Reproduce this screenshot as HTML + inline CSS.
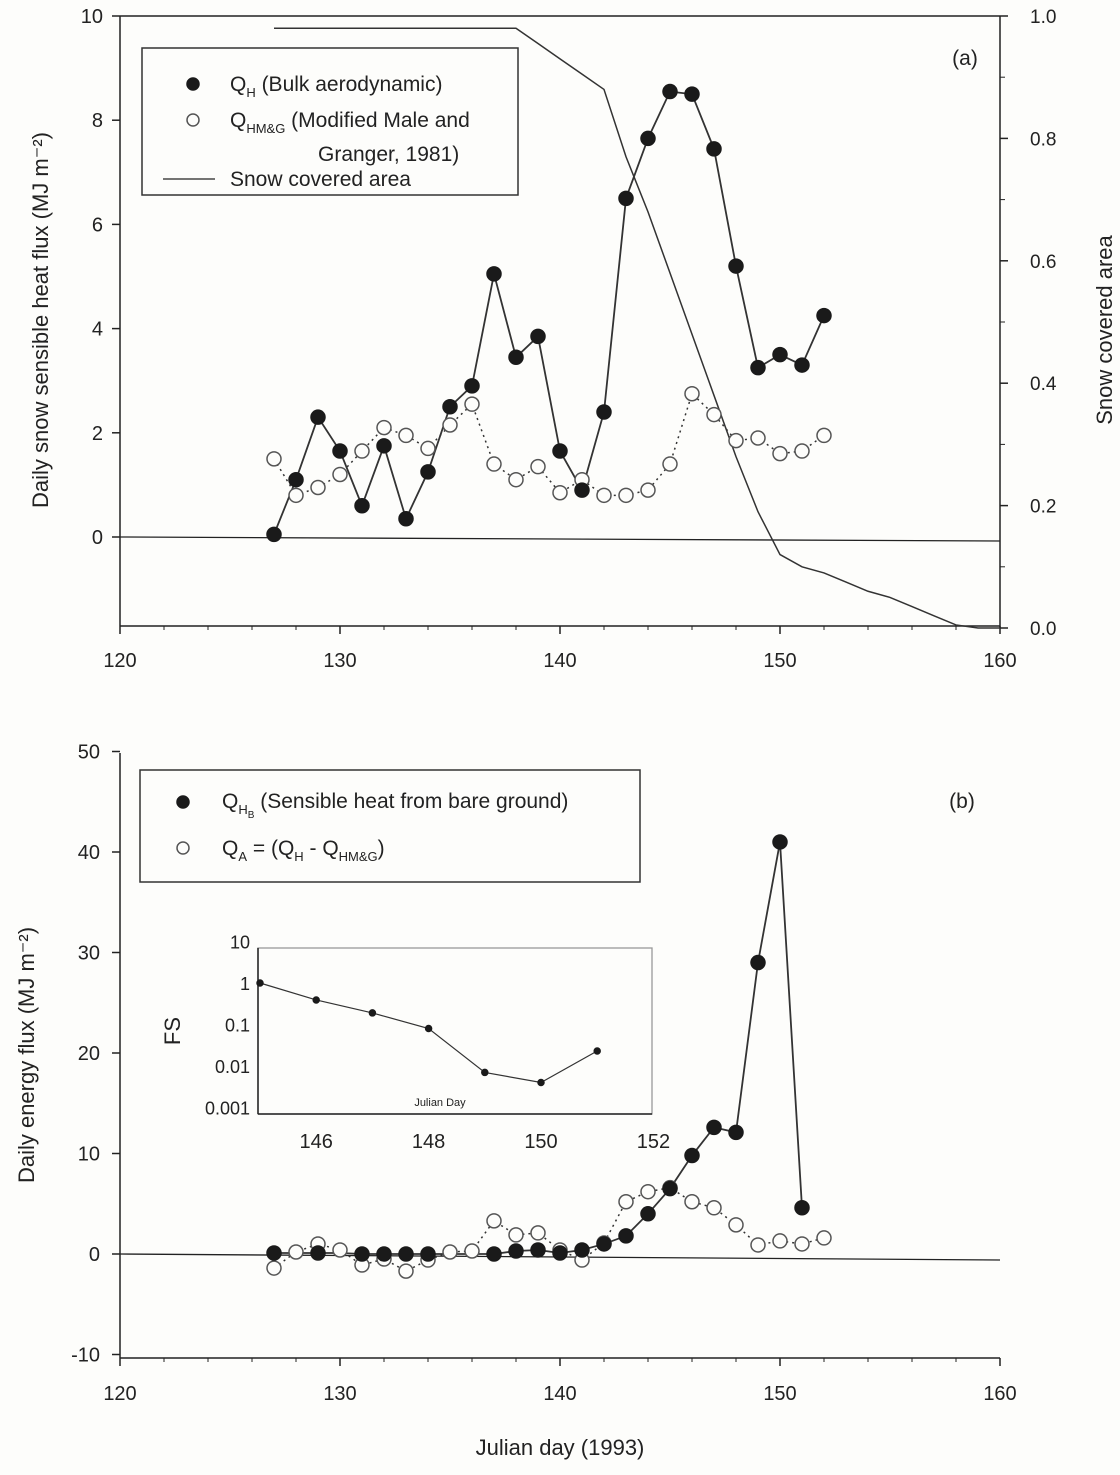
<!DOCTYPE html>
<html><head><meta charset="utf-8"><style>
body{margin:0;background:#fdfdfb;}
svg{display:block;font-family:"Liberation Sans",sans-serif;}
</style></head><body>
<svg id="c" width="1120" height="1475" viewBox="0 0 1120 1475"></svg>
<script>
const days=[127,128,129,130,131,132,133,134,135,136,137,138,139,140,141,142,143,144,145,146,147,148,149,150,151,152];
const qh=[0.05,1.1,2.3,1.65,0.6,1.75,0.35,1.25,2.5,2.9,5.05,3.45,3.85,1.65,0.9,2.4,6.5,7.65,8.55,8.5,7.45,5.2,3.25,3.5,3.3,4.25];
const qhmg=[1.5,0.8,0.95,1.2,1.65,2.1,1.95,1.7,2.15,2.55,1.4,1.1,1.35,0.85,1.1,0.8,0.8,0.9,1.4,2.75,2.35,1.85,1.9,1.6,1.65,1.95];
const scaDays=[127,138,139,140,141,142,143,144,145,146,147,148,149,150,151,152,153,154,155,156,157,158,159,160];
const sca=[0.98,0.98,0.955,0.93,0.905,0.88,0.77,0.68,0.58,0.48,0.38,0.28,0.19,0.12,0.10,0.09,0.075,0.06,0.05,0.035,0.02,0.005,0,0];
const bDays=[127,128,129,130,131,132,133,134,135,136,137,138,139,140,141,142,143,144,145,146,147,148,149,150,151];
const qhb=[0.1,0.1,0.1,0.1,0,0,0,0,0,0,0,0.3,0.4,0.1,0.4,1.0,1.8,4,6.5,9.8,12.6,12.1,29,41,4.6];
const qa=[-1.4,0.2,1.0,0.4,-1.1,-0.5,-1.7,-0.6,0.2,0.3,3.3,1.9,2.1,0.4,-0.6,1.1,5.2,6.2,6.6,5.2,4.6,2.9,0.9,1.3,1.0,1.6];
const fsDays=[145,146,147,148,149,150,151];
const fs=[1.0,0.39,0.19,0.08,0.007,0.004,0.023];
const xTicks=[120,130,140,150,160];
const aTicks=[0,2,4,6,8,10];
const rTicks=[0,0.2,0.4,0.6,0.8,1.0];
const bTicks=[-10,0,10,20,30,40,50];
const fsTicks=[0.001,0.01,0.1,1,10];
const fsXTicks=[146,148,150,152];

const S=document.getElementById('c');const NS='http://www.w3.org/2000/svg';
function E(t,a,p){const e=document.createElementNS(NS,t);for(const k in a)e.setAttribute(k,a[k]);(p||S).appendChild(e);return e;}
function T(x,y,s,sz,anch,name,rot){const e=E('text',{x:x,y:y,'font-size':sz,'text-anchor':anch||'middle',fill:'#222'});e.textContent=s;
 
 
 if(rot)e.setAttribute('transform','rotate(-90 '+x+' '+y+')');return e;}
function L(x1,y1,x2,y2,w,name,dash){const e=E('line',{x1:x1,y1:y1,x2:x2,y2:y2,stroke:'#222','stroke-width':w||1.5});if(dash)e.setAttribute('stroke-dasharray',dash);
 
 return e;}
function path(pts,name,w,dash){const e=E('polyline',{points:pts.map(p=>p.join(',')).join(' '),fill:'none',stroke:'#333','stroke-width':w||1.6});if(dash)e.setAttribute('stroke-dasharray',dash);
 
 return e;}
function dot(x,y,filled,name,r){const e=E('circle',{cx:x,cy:y,r:r||7,fill:filled?'#1a1a1a':'#fdfdfb',stroke:filled?'#1a1a1a':'#555','stroke-width':1.5});
 
 return e;}
const X=d=>120+(d-120)*22;
const YA=v=>537-v*52.1, YR=v=>628-v*612;
L(120,16,1000,16,1.5,'top-border');L(120,16,120,626,1.5,'y-axis-a');L(1000,16,1000,628,1.5,'y-axis-right');
L(120,626,1000,626,1.5,'x-axis-a');L(120,537,1000,541,1.3,'zero-line-a');
xTicks.forEach(t=>{L(X(t),626,X(t),634,1.5,'x-tick-a');T(X(t),667,t,20,'middle','x-tick-label-a');});
for(let d=122;d<160;d+=2)L(X(d),626,X(d),630,1,'x-minor-tick-a');
aTicks.forEach(t=>{L(112,YA(t),120,YA(t),1.5,'y-tick-a');T(103,YA(t)+7,t,20,'end','y-tick-label-a');});
rTicks.forEach(t=>{L(1000,YR(t),1008,YR(t),1.5,'right-tick');T(1030,YR(t)+7,t.toFixed(1),19,'start','right-tick-label');});
for(let v=0.1;v<1;v+=0.2)L(1000,YR(v),1005,YR(v),1,'right-minor-tick');
T(48,320,'Daily snow sensible heat flux (MJ m\u207B\u00B2)',22,'middle','y-axis-title-a',true);
T(1112,330,'Snow covered area',22,'middle','right-axis-title',true);
T(965,65,'(a)',21,'middle','panel-label-a');
path(scaDays.map((d,i)=>[X(d),YR(sca[i])]),'snow-covered-area-line',1.5);
path(days.map((d,i)=>[X(d),YA(qhmg[i])]),'qhmg-line',1.5,'2,4');
path(days.map((d,i)=>[X(d),YA(qh[i])]),'qh-line',1.8);
days.forEach((d,i)=>dot(X(d),YA(qhmg[i]),false,'qhmg-point'));
days.forEach((d,i)=>dot(X(d),YA(qh[i]),true,'qh-point'));
let r=E('rect',{x:142,y:48,width:376,height:147,fill:'#fdfdfb',stroke:'#333','stroke-width':1.5});

dot(193,84,true,'legend-qh-marker',6);dot(193,120,false,'legend-qhmg-marker',6);L(163,179,215,179,1.3,'legend-sca-line');
let t=T(230,91,'Q',21,'start','legend-qh-label');t.innerHTML='Q<tspan font-size="13" dy="6">H</tspan><tspan dy="-6"> (Bulk aerodynamic)</tspan>';
t=T(230,127,'Q',21,'start','legend-qhmg-label');t.innerHTML='Q<tspan font-size="13" dy="6">HM&amp;G</tspan><tspan dy="-6"> (Modified Male and</tspan>';
T(318,161,'Granger, 1981)',21,'start','legend-qhmg-label-2');
T(230,186,'Snow covered area',21,'start','legend-sca-label');
const YB=v=>1254-v*10.05;
L(120,753,120,1358,1.5,'y-axis-b');L(120,1358,1000,1358,1.5,'x-axis-b');L(120,1254,1000,1260,1.3,'zero-line-b');
xTicks.forEach(t=>{L(X(t),1358,X(t),1366,1.5,'x-tick-b');T(X(t),1400,t,20,'middle','x-tick-label-b');});
for(let d=122;d<160;d+=2)L(X(d),1358,X(d),1362,1,'x-minor-tick-b');
bTicks.forEach(t=>{L(112,YB(t),120,YB(t),1.5,'y-tick-b');T(100,YB(t)+7,t,20,'end','y-tick-label-b');});
T(34,1055,'Daily energy flux (MJ m\u207B\u00B2)',22,'middle','y-axis-title-b',true);
T(560,1455,'Julian day (1993)',22,'middle','x-axis-title');
T(962,808,'(b)',21,'middle','panel-label-b');
path(days.map((d,i)=>[X(d),YB(qa[i])]),'qa-line',1.5,'2,4');
path(bDays.map((d,i)=>[X(d),YB(qhb[i])]),'qhb-line',1.8);
days.forEach((d,i)=>dot(X(d),YB(qa[i]),false,'qa-point'));
bDays.forEach((d,i)=>{if(qhb[i]>0.5||[127,129,131,132,133,134,137,138,139,140,141].includes(d))dot(X(d),YB(qhb[i]),true,'qhb-point');});
r=E('rect',{x:140,y:770,width:500,height:112,fill:'#fdfdfb',stroke:'#333','stroke-width':1.5});

dot(183,802,true,'legend-qhb-marker',6);dot(183,848,false,'legend-qa-marker',6);
t=T(222,808,'Q',21,'start','legend-qhb-label');t.innerHTML='Q<tspan font-size="13" dy="6">H</tspan><tspan font-size="10" dy="4">B</tspan><tspan dy="-10"> (Sensible heat from bare ground)</tspan>';
t=T(222,855,'Q',21,'start','legend-qa-label');t.innerHTML='Q<tspan font-size="13" dy="6">A</tspan><tspan dy="-6"> = (Q</tspan><tspan font-size="13" dy="6">H</tspan><tspan dy="-6"> - Q</tspan><tspan font-size="13" dy="6">HM&amp;G</tspan><tspan dy="-6">)</tspan>';
const XI=d=>260+(d-145)*56.2, YI=v=>983-Math.log10(v)*41.5;
r=E('rect',{x:258,y:948,width:394,height:166,fill:'none',stroke:'#999','stroke-width':1.3});

L(258,948,258,1114,1.5,'inset-y-axis');L(258,1114,652,1114,1.5,'inset-x-axis');
fsTicks.forEach(v=>T(250,YI(v)+7,String(v),18,'end','inset-y-tick-label'));
fsXTicks.forEach(d=>T(XI(d),1148,d,20,'middle','inset-x-tick-label'));
T(180,1031,'FS',22,'middle','inset-y-title',true);
T(440,1106,'Julian Day',11,'middle','inset-x-title');
path(fsDays.map((d,i)=>[XI(d),YI(fs[i])]),'fs-line',1.2);
fsDays.forEach((d,i)=>dot(XI(d),YI(fs[i]),true,'fs-point',3));
</script>
</body></html>
